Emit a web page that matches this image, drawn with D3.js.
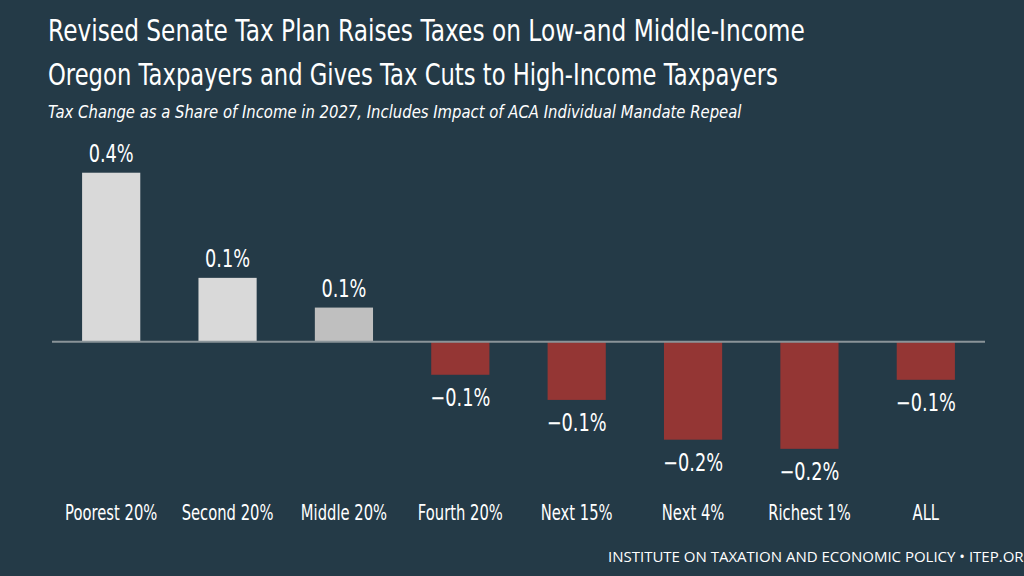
<!DOCTYPE html>
<html>
<head>
<meta charset="utf-8">
<script src="https://cdn.jsdelivr.net/npm/d3@7"></script>
<style>
  html, body { margin: 0; padding: 0; background: #243a47; overflow: hidden; }
  svg { display: block; }
  .cond { font-family: "DejaVu Sans", sans-serif; }
</style>
</head>
<body>
<div id="root"></div>
<script>
// chart data
const groups = ["Poorest 20%", "Second 20%", "Middle 20%", "Fourth 20%", "Next 15%", "Next 4%", "Richest 1%", "ALL"];
const shares = [0.37, 0.14, 0.075, -0.072, -0.127, -0.214, -0.234, -0.083];
const valueLabels = ["0.4%", "0.1%", "0.1%", "\u22120.1%", "\u22120.1%", "\u22120.2%", "\u22120.2%", "\u22120.1%"];
const barColors = ["#d9d9d9", "#d9d9d9", "#bfbfbf", "#943634", "#943634", "#943634", "#943634", "#943634"];

const width = 1024, height = 576;
// no condensed font available, so glyphs get squashed horizontally
const valSqueeze = 0.74;
const catSqueeze = 0.72;

const svg = d3.select("#root")
    .append("svg")
    .attr("width", width)
    .attr("height", height);

svg.append("rect")
    .attr("width", width)
    .attr("height", height)
    .attr("fill", "#243a47");

// squeeze a left-aligned text to a given width
function fitText(sel, tx, ty, target) {
    const w = sel.node().getComputedTextLength();
    sel.attr("transform", `translate(${tx},${ty}) scale(${target / w},1)`);
}

// titles
const t1 = svg.append("text")
    .attr("class", "cond")
    .attr("fill", "#ffffff")
    .attr("font-size", 31)
    .text("Revised Senate Tax Plan Raises Taxes on Low-and Middle-Income");
fitText(t1, 48, 41, 757);

const t2 = svg.append("text")
    .attr("class", "cond")
    .attr("fill", "#ffffff")
    .attr("font-size", 31)
    .text("Oregon Taxpayers and Gives Tax Cuts to High-Income Taxpayers");
fitText(t2, 48, 85, 730);

const sub = svg.append("text")
    .attr("class", "cond")
    .attr("fill", "#ffffff")
    .attr("font-size", 17.5)
    .attr("font-style", "italic")
    .text("Tax Change as a Share of Income in 2027, Includes Impact of ACA Individual Mandate Repeal");
fitText(sub, 48, 118, 694);

// scales
const x = d3.scaleBand()
    .domain(groups)
    .range([53, 984])
    .paddingInner(0.5)
    .paddingOuter(0.25);

const y = d3.scaleLinear()
    .domain([-0.3, 0.4])
    .range([479, 159]);

// bars
svg.selectAll("rect.bar")
    .data(shares)
    .enter()
    .append("rect")
        .attr("class", "bar")
        .attr("x", (d, i) => x(groups[i]))
        .attr("width", x.bandwidth())
        .attr("y", d => y(Math.max(0, d)))
        .attr("height", d => Math.abs(y(d) - y(0)))
        .attr("fill", (d, i) => barColors[i]);

// zero line
svg.append("line")
    .attr("x1", 52)
    .attr("x2", 985)
    .attr("y1", y(0))
    .attr("y2", y(0))
    .attr("stroke", "#8a9499")
    .attr("stroke-width", 2);

// value labels
svg.selectAll("g.val")
    .data(shares)
    .enter()
    .append("g")
        .attr("class", "val")
        .attr("transform", (d, i) => {
            const cx = x(groups[i]) + x.bandwidth() / 2;
            const by = d >= 0 ? y(d) - 11 : y(d) + 31;
            return `translate(${cx},${by}) scale(${valSqueeze},1)`;
        })
    .append("text")
        .attr("class", "cond")
        .attr("text-anchor", "middle")
        .attr("fill", "#ffffff")
        .attr("font-size", 24)
        .text((d, i) => valueLabels[i]);

// category axis
const xAxis = d3.axisBottom(x).tickSize(0).tickPadding(0);
const gx = svg.append("g")
    .attr("transform", "translate(0, 520)")
    .call(xAxis);
gx.select(".domain").remove();
gx.selectAll("text")
    .attr("class", "cond")
    .attr("fill", "#ffffff")
    .attr("font-size", 20.5)
    .attr("y", 0)
    .attr("dy", 0)
    .attr("transform", `scale(${catSqueeze},1)`);

// footer (runs off the right edge, as in the original)
svg.append("text")
    .attr("x", 608)
    .attr("y", 562)
    .attr("fill", "#ffffff")
    .attr("font-family", "'Open Sans', 'DejaVu Sans', sans-serif")
    .attr("font-size", 15)
    .text("INSTITUTE ON TAXATION AND ECONOMIC POLICY \u2022 ITEP.ORG");
</script>
</body>
</html>
